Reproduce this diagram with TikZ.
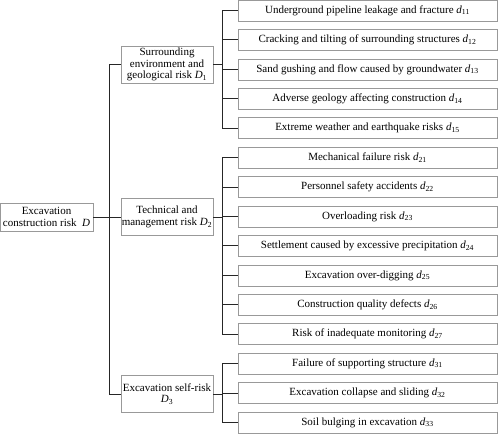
\documentclass[tikz,border=0pt]{standalone}
\usepackage{fontspec}
\setmainfont{Liberation Serif}
\newcommand{\dsub}[1]{\textit{d}\textsubscript{#1}}
\newcommand{\Dsub}[1]{\textit{D}\textsubscript{#1}}
\begin{document}
\begin{tikzpicture}[x=1pt,y=-1pt,
  box/.style={draw=black!40, line width=0.7pt, inner sep=0pt, align=center,
    font=\fontsize{11}{11.5}\selectfont},
  leaf/.style={box, minimum width=259pt, minimum height=21pt},
  mid/.style={box, minimum width=92pt, minimum height=37pt},
  conn/.style={line width=1pt, black!85}]
\useasboundingbox (0,0) rectangle (498,434);
% root
\node[box, minimum width=93pt, minimum height=28pt] (root) at (46.5,217) {Excavation\\construction risk~~\textit{D}};
% middle
\node[mid] (D1) at (167,64.5) {Surrounding\\environment and\\geological risk \Dsub{1}};
\node[mid] (D2) at (167,217) {Technical and\\management risk \Dsub{2}};
\node[mid] (D3) at (167,394) {Excavation self-risk\\\Dsub{3}};
% leaves
\node[leaf] (l1)  at (367.5,10.5)  {Underground pipeline leakage and fracture \dsub{11}};
\node[leaf] (l2)  at (367.5,39.9)  {Cracking and tilting of surrounding structures \dsub{12}};
\node[leaf] (l3)  at (367.5,69.4)  {Sand gushing and flow caused by groundwater \dsub{13}};
\node[leaf] (l4)  at (367.5,98.8)  {Adverse geology affecting construction \dsub{14}};
\node[leaf] (l5)  at (367.5,128.2) {Extreme weather and earthquake risks \dsub{15}};
\node[leaf] (l6)  at (367.5,157.7) {Mechanical failure risk \dsub{21}};
\node[leaf] (l7)  at (367.5,187.1) {Personnel safety accidents \dsub{22}};
\node[leaf] (l8)  at (367.5,216.5) {Overloading risk \dsub{23}};
\node[leaf] (l9)  at (367.5,245.9) {Settlement caused by excessive precipitation \dsub{24}};
\node[leaf] (l10) at (367.5,275.4) {Excavation over-digging \dsub{25}};
\node[leaf] (l11) at (367.5,304.8) {Construction quality defects \dsub{26}};
\node[leaf] (l12) at (367.5,334.2) {Risk of inadequate monitoring \dsub{27}};
\node[leaf] (l13) at (367.5,363.6) {Failure of supporting structure \dsub{31}};
\node[leaf] (l14) at (367.5,393.1) {Excavation collapse and sliding \dsub{32}};
\node[leaf] (l15) at (367.5,422.5) {Soil bulging in excavation \dsub{33}};
% bus coordinates
\coordinate (b0) at (109,0);
\coordinate (b1) at (222,0);
% root connectors
\draw[conn] (root.east) -- (root.east -| b0);
\draw[conn] (D1.west) -- (D1.west -| b0) -- (D3.west -| b0) -- (D3.west);
\draw[conn] (D2.west) -- (D2.west -| b0);
% D1
\draw[conn] (D1.east) -- (D1.east -| b1);
\draw[conn] (l1.west) -- (l1.west -| b1) -- (l5.west -| b1) -- (l5.west);
\foreach \k in {2,3,4} \draw[conn] (l\k.west) -- (l\k.west -| b1);
% D2
\draw[conn] (D2.east) -- (D2.east -| b1);
\draw[conn] (l6.west) -- (l6.west -| b1) -- (l12.west -| b1) -- (l12.west);
\foreach \k in {7,...,11} \draw[conn] (l\k.west) -- (l\k.west -| b1);
% D3
\draw[conn] (D3.east) -- (D3.east -| b1);
\draw[conn] (l13.west) -- (l13.west -| b1) -- (l15.west -| b1) -- (l15.west);
\draw[conn] (l14.west) -- (l14.west -| b1);
\end{tikzpicture}
\end{document}
